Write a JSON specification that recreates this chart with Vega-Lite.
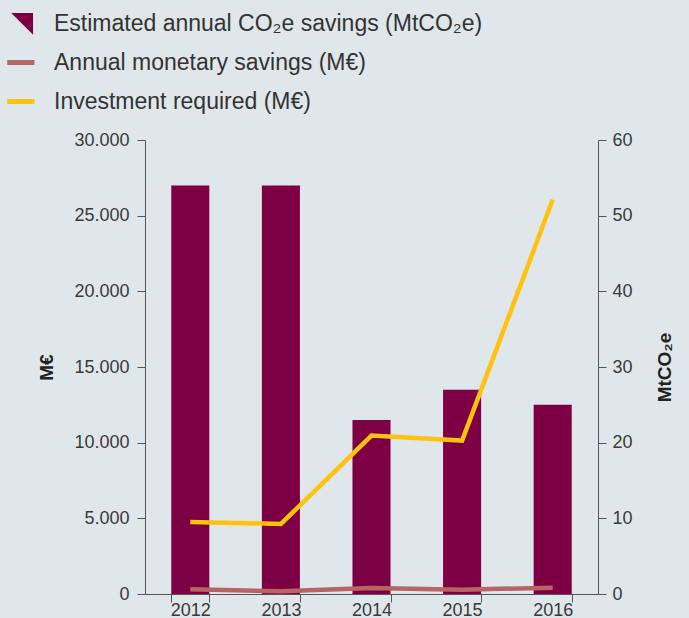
{
  "$schema": "https://vega.github.io/schema/vega-lite/v6.json",
  "width": 453,
  "height": 454,
  "autosize": {"type": "none"},
  "padding": {"left": 145, "top": 140, "right": 91, "bottom": 24},
  "background": "#E0E7EA",
  "config": {
    "view": {"stroke": null},
    "font": "Liberation Sans",
    "axis": {
      "labelFont": "Liberation Sans",
      "labelFontSize": 18,
      "labelColor": "#3a3a3a",
      "domainColor": "#555555",
      "tickColor": "#555555",
      "grid": false,
      "titleFont": "Liberation Sans",
      "titleFontSize": 19,
      "titleColor": "#222222",
      "titleFontWeight": "bold",
      "tickSize": 8
    }
  },
  "datasets": {
    "co2": [
      {"year": "2012", "series": "Estimated annual CO₂e savings (MtCO₂e)", "value": 54},
      {"year": "2013", "series": "Estimated annual CO₂e savings (MtCO₂e)", "value": 54},
      {"year": "2014", "series": "Estimated annual CO₂e savings (MtCO₂e)", "value": 23},
      {"year": "2015", "series": "Estimated annual CO₂e savings (MtCO₂e)", "value": 27},
      {"year": "2016", "series": "Estimated annual CO₂e savings (MtCO₂e)", "value": 25}
    ],
    "money": [
      {"year": "2012", "series": "Annual monetary savings (M€)", "value": 310},
      {"year": "2013", "series": "Annual monetary savings (M€)", "value": 180},
      {"year": "2014", "series": "Annual monetary savings (M€)", "value": 400},
      {"year": "2015", "series": "Annual monetary savings (M€)", "value": 285},
      {"year": "2016", "series": "Annual monetary savings (M€)", "value": 420},
      {"year": "2012", "series": "Investment required (M€)", "value": 4760},
      {"year": "2013", "series": "Investment required (M€)", "value": 4630},
      {"year": "2014", "series": "Investment required (M€)", "value": 10470},
      {"year": "2015", "series": "Investment required (M€)", "value": 10140},
      {"year": "2016", "series": "Investment required (M€)", "value": 26060}
    ]
  },
  "encoding": {
    "x": {
      "field": "year",
      "type": "ordinal",
      "scale": {"paddingInner": 0.58, "paddingOuter": 0.29},
      "axis": {"title": null, "labelAngle": 0, "tickBand": "extent", "labelPadding": -1}
    },
    "color": {
      "field": "series",
      "type": "nominal",
      "scale": {
        "domain": ["Estimated annual CO₂e savings (MtCO₂e)", "Annual monetary savings (M€)", "Investment required (M€)"],
        "range": ["#7D0045", "#B86462", "#FFC20F"]
      },
      "legend": {
        "orient": "none",
        "legendX": -136,
        "legendY": -128,
        "title": null,
        "labelFont": "Liberation Sans",
        "labelFontSize": 23,
        "labelColor": "#333333",
        "labelLimit": 700,
        "symbolSize": 700,
        "rowPadding": 15,
        "labelOffset": 22,
        "encode": {
          "symbols": {
            "update": {
              "shape": {"signal": "datum.value === 'Estimated annual CO₂e savings (MtCO₂e)' ? 'M-0.7,-0.8L0.95,-0.8L0.95,0.85Z' : 'M-1,0L1.05,0'"},
              "fill": {"signal": "datum.value === 'Estimated annual CO₂e savings (MtCO₂e)' ? '#7D0045' : 'transparent'"},
              "stroke": {"signal": "datum.value === 'Estimated annual CO₂e savings (MtCO₂e)' ? '#7D0045' : (datum.value === 'Investment required (M€)' ? '#FFC20F' : '#B86462')"},
              "strokeWidth": {"signal": "datum.value === 'Estimated annual CO₂e savings (MtCO₂e)' ? 0 : 5"},
              "opacity": {"value": 1}
            }
          }
        }
      }
    }
  },
  "layer": [
    {
      "data": {"name": "co2"},
      "mark": {"type": "bar"},
      "encoding": {
        "y": {
          "field": "value",
          "type": "quantitative",
          "scale": {"domain": [0, 60]},
          "axis": {"orient": "right", "title": "MtCO₂e", "values": [0, 10, 20, 30, 40, 50, 60], "titleAngle": 270, "titlePadding": 42, "labelPadding": 6}
        }
      }
    },
    {
      "data": {"name": "money"},
      "mark": {"type": "line", "strokeWidth": 4.5, "strokeCap": "butt"},
      "encoding": {
        "y": {
          "field": "value",
          "type": "quantitative",
          "scale": {"domain": [0, 30000]},
          "axis": {
            "orient": "left",
            "title": "M€",
            "values": [0, 5000, 10000, 15000, 20000, 25000, 30000],
            "labelExpr": "replace(format(datum.value, ',d'), ',', '.')",
            "labelPadding": 8,
            "titlePadding": 17
          }
        }
      }
    }
  ],
  "resolve": {"scale": {"y": "independent"}}
}
